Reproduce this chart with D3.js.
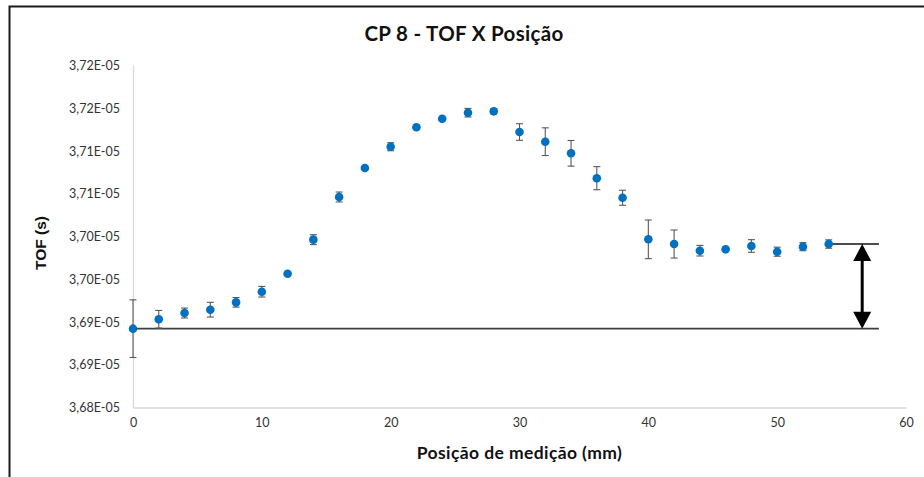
<!DOCTYPE html>
<html>
<head>
<meta charset="utf-8">
<script src="https://cdn.jsdelivr.net/npm/d3@7/dist/d3.min.js"></script>
<style>
  html, body { margin: 0; padding: 0; background: #fff; }
  svg { display: block; }
</style>
</head>
<body>
<svg id="chart" width="924" height="477"></svg>
<script>
// Measurement positions (mm)
const positions = [0, 2, 4, 6, 8, 10, 12, 14, 16, 18, 20, 22, 24, 26, 28,
                   30, 32, 34, 36, 38, 40, 42, 44, 46, 48, 50, 52, 54];
// Mean time of flight (s)
const tof = [3.68922e-5, 3.69032e-5, 3.69105e-5, 3.69144e-5, 3.69230e-5, 3.69354e-5,
             3.69565e-5, 3.69963e-5, 3.70462e-5, 3.70801e-5, 3.71050e-5, 3.71277e-5,
             3.71378e-5, 3.71448e-5, 3.71464e-5, 3.71222e-5, 3.71109e-5, 3.70973e-5,
             3.70682e-5, 3.70453e-5, 3.69967e-5, 3.69912e-5, 3.69834e-5, 3.69850e-5,
             3.69889e-5, 3.69822e-5, 3.69881e-5, 3.69912e-5];
// Standard deviation of each measurement (s)
const tofErr = [3.37e-8, 1.03e-8, 0.58e-8, 0.86e-8, 0.56e-8, 0.62e-8,
                0.10e-8, 0.58e-8, 0.58e-8, 0.10e-8, 0.47e-8, 0.10e-8,
                0.12e-8, 0.50e-8, 0.30e-8, 0.97e-8, 1.62e-8, 1.50e-8,
                1.35e-8, 0.88e-8, 2.26e-8, 1.64e-8, 0.62e-8, 0.10e-8,
                0.74e-8, 0.53e-8, 0.47e-8, 0.49e-8];

const xTicks = [0, 10, 20, 30, 40, 50, 60];
const yTicks = [3.680e-5, 3.685e-5, 3.690e-5, 3.695e-5, 3.700e-5,
                3.705e-5, 3.710e-5, 3.715e-5, 3.720e-5];
const yTickLabels = ["3,68E-05", "3,69E-05", "3,69E-05", "3,70E-05", "3,70E-05",
                     "3,71E-05", "3,71E-05", "3,72E-05", "3,72E-05"];

const titleText = "CP 8 - TOF X Posição";
const xTitle = "Posição de medição (mm)";
const yTitle = "TOF (s)";

// Span between first and last reading, marked with a double arrow
const spanFrom = 0;      // index of the baseline reading
const spanTo = 27;       // index of the end reading
const spanLineEnd = 57.9; // mm, where the reference lines stop
const spanArrowAt = 56.6; // mm, arrow position

const svg = d3.select("#chart");
const W = 924, H = 477;
const plot = { left: 133, right: 906, top: 65.5, bottom: 407.5 };

const x = d3.scaleLinear().domain([0, 60]).range([plot.left, plot.right]);
const y = d3.scaleLinear().domain([3.680e-5, 3.720e-5]).range([plot.bottom, plot.top]);

const labelFont = "Lato, 'Open Sans', sans-serif";

// Outer chart frame
svg.append("rect")
  .attr("x", 9.5).attr("y", 6.5)
  .attr("width", W + 20).attr("height", H + 20)
  .attr("fill", "#fff").attr("stroke", "#1a1a1a").attr("stroke-width", 2);

// Title
svg.append("text")
  .attr("x", 464).attr("y", 41)
  .attr("text-anchor", "middle")
  .attr("font-family", labelFont)
  .attr("font-weight", 700)
  .attr("font-size", 20.5)
  .attr("letter-spacing", 0.3)
  .attr("fill", "#111")
  .text(titleText);

// Axes
const xAxis = d3.axisBottom(x).tickValues(xTicks).tickSize(0).tickPadding(11)
  .tickFormat(d3.format("d"));
const yAxis = d3.axisLeft(y).tickValues(yTicks).tickSize(0).tickPadding(13)
  .tickFormat((d, i) => yTickLabels[i]);

const gx = svg.append("g").attr("transform", `translate(0,${plot.bottom})`).call(xAxis);
const gy = svg.append("g").attr("transform", `translate(${plot.left},0)`).call(yAxis);

[gx, gy].forEach(g => {
  g.select(".domain").attr("stroke", "#d9d9d9").attr("stroke-width", 1.3);
  g.selectAll(".tick text")
    .attr("font-family", labelFont)
    .attr("font-size", 12.5)
    .attr("fill", "#333");
});

// Axis titles
svg.append("text")
  .attr("x", (plot.left + plot.right) / 2).attr("y", 459)
  .attr("text-anchor", "middle")
  .attr("font-family", labelFont)
  .attr("font-weight", 700)
  .attr("font-size", 17.5)
  .attr("letter-spacing", 0.4)
  .attr("fill", "#111")
  .text(xTitle);

svg.append("text")
  .attr("transform", `translate(46,${243}) rotate(-90)`)
  .attr("text-anchor", "middle")
  .attr("font-family", "'Liberation Sans', Arial, sans-serif")
  .attr("font-weight", 700)
  .attr("font-size", 15.5)
  .attr("fill", "#111")
  .text(yTitle);

// Baseline reference at the first reading
svg.append("line")
  .attr("x1", x(positions[spanFrom])).attr("x2", x(spanLineEnd))
  .attr("y1", y(tof[spanFrom])).attr("y2", y(tof[spanFrom]))
  .attr("stroke", "#3f3f3f").attr("stroke-width", 1.6);

// Reference at the last reading
svg.append("line")
  .attr("x1", x(positions[spanTo])).attr("x2", x(spanLineEnd))
  .attr("y1", y(tof[spanTo])).attr("y2", y(tof[spanTo]))
  .attr("stroke", "#111").attr("stroke-width", 1.5);

// Error bars
const errG = svg.append("g").attr("stroke", "#595959").attr("stroke-width", 1.1);
const capHalf = 3.5;
positions.forEach((p, i) => {
  const cx = x(p);
  const yHi = y(tof[i] + tofErr[i]);
  const yLo = y(tof[i] - tofErr[i]);
  errG.append("line").attr("x1", cx).attr("x2", cx).attr("y1", yHi).attr("y2", yLo);
  errG.append("line").attr("x1", cx - capHalf).attr("x2", cx + capHalf).attr("y1", yHi).attr("y2", yHi);
  errG.append("line").attr("x1", cx - capHalf).attr("x2", cx + capHalf).attr("y1", yLo).attr("y2", yLo);
});

// Markers
svg.append("g").selectAll("circle")
  .data(positions)
  .join("circle")
  .attr("cx", d => x(d))
  .attr("cy", (d, i) => y(tof[i]))
  .attr("r", 4.3)
  .attr("fill", "#0070c0");

// Double-headed arrow between the two readings
const ax = x(spanArrowAt);
const aTop = y(tof[spanTo]);
const aBot = y(tof[spanFrom]);
const headH = 17, headW = 9;
svg.append("line")
  .attr("x1", ax).attr("x2", ax)
  .attr("y1", aTop + headH - 2).attr("y2", aBot - headH + 2)
  .attr("stroke", "#000").attr("stroke-width", 3);
svg.append("path")
  .attr("d", `M${ax},${aTop} L${ax - headW},${aTop + headH} L${ax + headW},${aTop + headH} Z`)
  .attr("fill", "#000");
svg.append("path")
  .attr("d", `M${ax},${aBot} L${ax - headW},${aBot - headH} L${ax + headW},${aBot - headH} Z`)
  .attr("fill", "#000");
</script>
</body>
</html>
